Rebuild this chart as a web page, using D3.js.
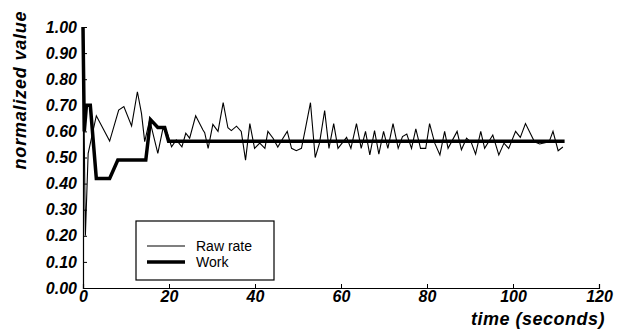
<!DOCTYPE html>
<html>
<head>
<meta charset="utf-8">
<script src="https://cdn.jsdelivr.net/npm/d3@7"></script>
<style>
  body { margin: 0; background: #fff; }
  text { font-family: "Liberation Sans", Arial, sans-serif; }
</style>
</head>
<body>
<div id="chart"></div>
<script>
// raw rate samples (seconds, normalized value)
var rawTime = [0, 0.55, 1.2, 3.1, 6.2, 8.3, 9.5, 11.3, 12.65, 13.6, 14.35, 15.5, 17.4, 18.6, 19.6, 20.6, 21.7, 23.0, 23.9,
  24.8, 26.2, 27.9, 28.3, 29.1, 30.2, 31.4, 32.6, 33.7, 34.5, 35.7, 36.8, 37.8, 38.8, 39.9, 41.1, 42.3, 43.0, 44.2,
  45.3, 46.5, 47.5, 48.5, 49.6, 50.8, 51.6, 52.9, 54.0, 55.0, 56.2, 57.2, 58.3, 59.3, 61.3, 62.3, 63.6, 64.7, 65.7,
  66.7, 67.8, 68.8, 69.9, 70.9, 72.1, 73.3, 74.3, 75.3, 76.4, 77.4, 78.5, 79.7, 80.6, 81.8, 83.0, 84.1, 84.9, 87.0,
  88.0, 89.2, 90.3, 91.3, 92.5, 93.4, 95.3, 96.7, 97.9, 99.0, 100.6, 101.7, 102.9, 105.0, 106.2, 108.4, 109.3, 110.5, 111.6];
var rawValue = [1.0, 0.2, 0.516, 0.66, 0.563, 0.682, 0.695, 0.621, 0.752, 0.669, 0.561, 0.644, 0.516, 0.612, 0.593, 0.541, 0.567, 0.541, 0.593,
  0.574, 0.66, 0.605, 0.595, 0.535, 0.627, 0.60, 0.71, 0.614, 0.603, 0.62, 0.60, 0.49, 0.63, 0.535, 0.555, 0.535, 0.60, 0.574,
  0.54, 0.574, 0.60, 0.535, 0.526, 0.535, 0.60, 0.71, 0.50, 0.555, 0.68, 0.535, 0.63, 0.535, 0.577, 0.535, 0.63, 0.535, 0.60,
  0.51, 0.603, 0.513, 0.60, 0.535, 0.63, 0.535, 0.58, 0.59, 0.535, 0.61, 0.535, 0.535, 0.63, 0.555, 0.51, 0.60, 0.535, 0.60,
  0.53, 0.574, 0.557, 0.513, 0.60, 0.535, 0.586, 0.51, 0.555, 0.535, 0.60, 0.577, 0.63, 0.56, 0.552, 0.56, 0.60, 0.526, 0.54];

// work curve
var workTime = [0, 0.3, 0.8, 1.7, 3.1, 6.2, 8.1, 14.6, 15.7, 17.4, 19.0, 19.9, 112];
var workValue = [1.0, 0.6, 0.7, 0.7, 0.42, 0.42, 0.49, 0.49, 0.645, 0.615, 0.615, 0.562, 0.562];

var xTicks = [0, 20, 40, 60, 80, 100, 120];
var yTicks = [0, 0.1, 0.2, 0.3, 0.4, 0.5, 0.6, 0.7, 0.8, 0.9, 1.0];
var seriesNames = ["Raw rate", "Work"];

function renderGraph(){
  var margin = {top: 27, right: 21, bottom: 41, left: 83},
      width = 620 - margin.left - margin.right,
      height = 329 - margin.top - margin.bottom;

  var svg = d3.select("#chart")
    .append("svg")
      .attr("width", 620)
      .attr("height", 329)
    .append("g")
      .attr("transform", "translate(" + margin.left + "," + margin.top + ")");

  var x = d3.scaleLinear().domain([0, 120]).range([0, width]);
  var y = d3.scaleLinear().domain([0, 1]).range([height, 0]);

  // axes, ticks point inward
  var xAxis = svg.append("g")
    .attr("transform", "translate(0," + height + ")")
    .call(d3.axisBottom(x).tickValues(xTicks).tickSize(-4).tickPadding(3).tickFormat(d3.format("d")));
  var yAxis = svg.append("g")
    .call(d3.axisLeft(y).tickValues(yTicks).tickSize(-4).tickPadding(6).tickFormat(d3.format(".2f")));

  [xAxis, yAxis].forEach(function(a){
    a.select(".domain").attr("stroke", "#000").attr("stroke-width", 1.2);
    a.selectAll(".tick line").attr("stroke", "#000").attr("stroke-width", 1);
    a.selectAll(".tick text")
      .attr("fill", "#000")
      .style("font-size", "16px")
      .style("font-weight", "bold")
      .style("font-style", "italic");
  });

  // axis titles
  svg.append("text")
    .attr("x", width + 6)
    .attr("y", height + 37)
    .style("text-anchor", "end")
    .style("font-size", "18px")
    .style("letter-spacing", "0.5px")
    .style("font-weight", "bold")
    .style("font-style", "italic")
    .text("time (seconds)");

  svg.append("text")
    .attr("transform", "rotate(-90)")
    .attr("x", -63)
    .attr("y", -57)
    .style("text-anchor", "middle")
    .style("font-size", "18px")
    .style("letter-spacing", "0.8px")
    .style("font-weight", "bold")
    .style("font-style", "italic")
    .text("normalized value");

  var line = d3.line()
    .x(function(d){ return x(d[0]); })
    .y(function(d){ return y(d[1]); });

  var raw = rawTime.map(function(t, i){ return [t, rawValue[i]]; });
  var work = workTime.map(function(t, i){ return [t, workValue[i]]; });

  svg.append("path")
    .datum(raw)
    .attr("fill", "none")
    .attr("stroke", "#000")
    .attr("stroke-width", 1.1)
    .attr("d", line);

  svg.append("path")
    .datum(work)
    .attr("fill", "none")
    .attr("stroke", "#000")
    .attr("stroke-width", 3.5)
    .attr("d", line);

  // legend
  var legend = svg.append("g")
    .attr("transform", "translate(" + (136 - margin.left) + "," + (221 - margin.top) + ")");
  legend.append("rect")
    .attr("width", 138)
    .attr("height", 59)
    .attr("fill", "#fff")
    .attr("stroke", "#000")
    .attr("stroke-width", 1.2);
  seriesNames.forEach(function(name, i){
    legend.append("line")
      .attr("x1", 11).attr("x2", 49)
      .attr("y1", 25 + i * 16).attr("y2", 25 + i * 16)
      .attr("stroke", "#000")
      .attr("stroke-width", i == 0 ? 1.1 : 3.5);
    legend.append("text")
      .attr("x", 60)
      .attr("y", 30 + i * 16)
      .style("font-size", "14px")
      .text(name);
  });
}

renderGraph();
</script>
</body>
</html>
